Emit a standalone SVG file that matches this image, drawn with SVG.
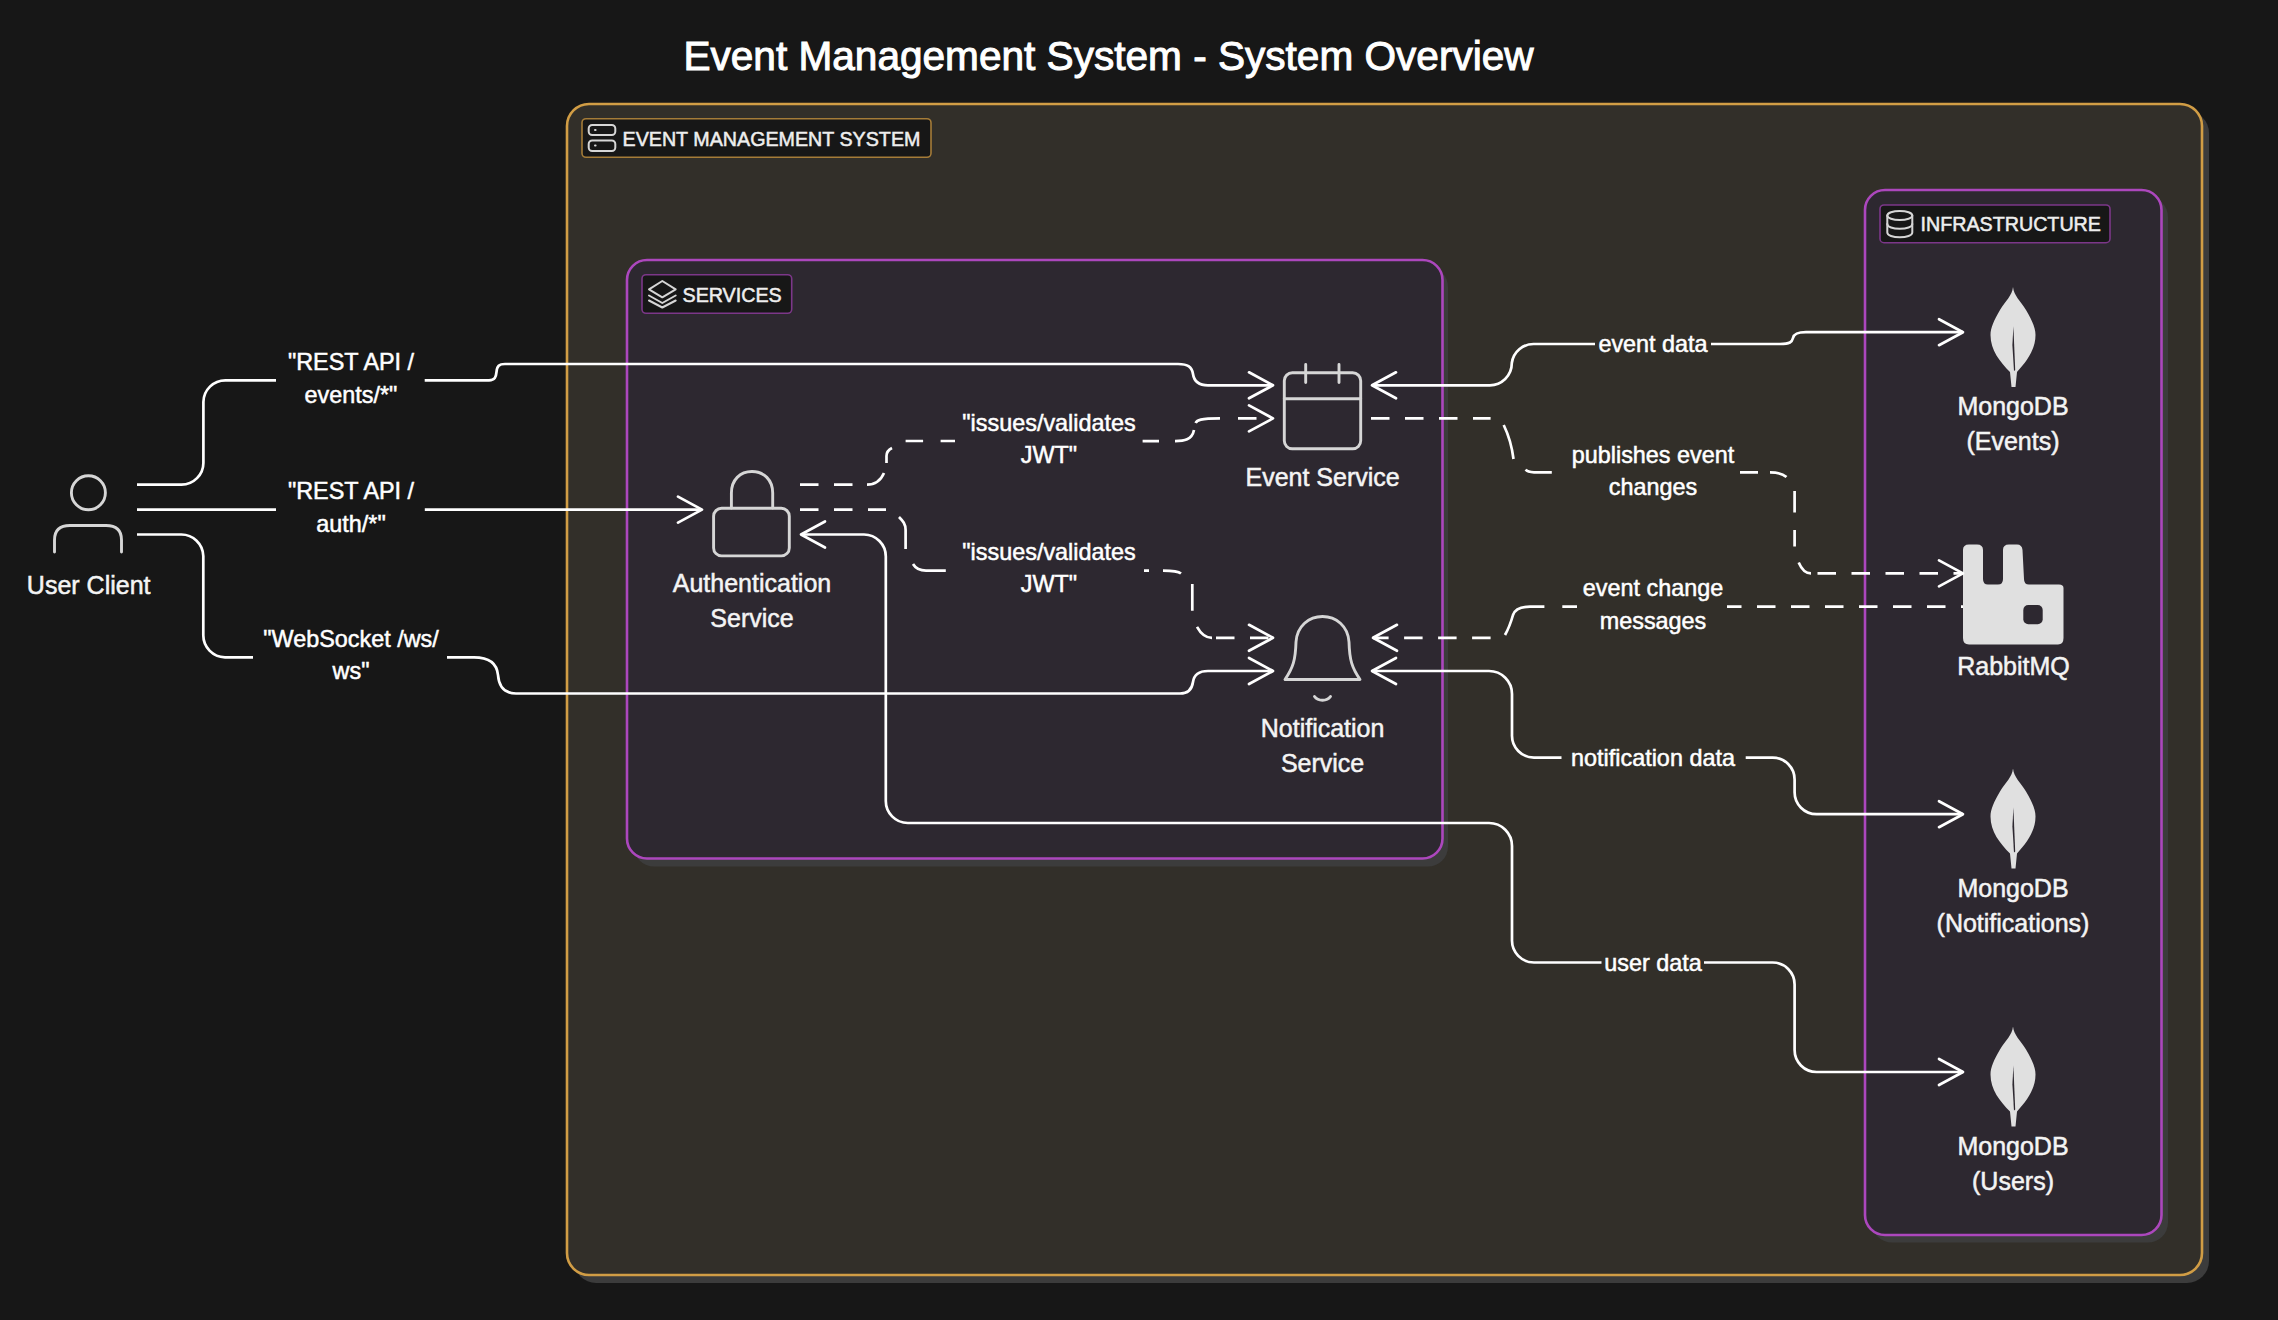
<svg xmlns="http://www.w3.org/2000/svg" width="2278" height="1320" viewBox="0 0 2278 1320">
<style>
text{font-family:"Liberation Sans",Arial,sans-serif;fill:#fff;stroke:#fff;stroke-width:.5}
.n{font-size:25px;text-anchor:middle;fill:#f4f4f4;stroke:#f4f4f4}
.e{font-size:23.4px;text-anchor:middle}
.g{font-size:19.7px;fill:#eee;stroke:#eee}
.shadow{fill:#3c3c3c}
.orange{fill:#322f29;stroke:#d19d45;stroke-width:2.6}
.purple{fill:#2d2830;stroke:#ac47bd;stroke-width:2.6}
.tagO{fill:#171717;stroke:#a57c38;stroke-width:1.6}
.tagP{fill:#171717;stroke:#7c3789;stroke-width:1.6}
.ic{fill:none;stroke:#d6d6d6;stroke-width:2.9;stroke-linecap:round;stroke-linejoin:round}
.solid{fill:#e0e0e0}
.l{fill:none;stroke:#fff;stroke-width:2.7;stroke-linecap:butt}
.d{stroke-dasharray:18.5 15.5}
.a{marker-end:url(#ar)}
.b{marker-start:url(#ar);marker-end:url(#ar)}
</style>
<defs>
<marker id="ar" markerUnits="userSpaceOnUse" markerWidth="30" markerHeight="32" refX="26" refY="15" orient="auto-start-reverse">
<path d="M2 2 L26 15 L2 28" fill="none" stroke="#fff" stroke-width="2.7" stroke-linecap="round" stroke-linejoin="round"/>
</marker>
<g id="leaf">
<path class="solid" d="M2013 287C2014 296 2020 300 2026 310C2032 320 2035.5 328 2035.5 335C2035.5 350 2026 362 2017 372L2015.5 387H2011.5L2010 372C2000 362 1990.5 350 1990.5 335C1990.5 328 1994 320 2000 310C2006 300 2012 296 2013 287Z"/>
<path fill="#2d2830" d="M2013.4 326L2015.2 370L2014 371L2012.4 345Z"/>
</g>
</defs>
<rect width="2278" height="1320" fill="#171717"/>
<g id="title"><text x="1108.5" y="69.5" font-size="40.6" text-anchor="middle" style="stroke-width:1">Event Management System - System Overview</text></g>

<g id="group-system">
<rect class="shadow" x="574" y="111" width="1635" height="1172" rx="22"/>
<rect class="orange" x="567" y="104" width="1635" height="1171" rx="22"/>
<rect class="tagO" x="582" y="118.7" width="349" height="38.6" rx="4"/>
<g class="ic" style="stroke-width:2"><rect x="588.7" y="125" width="26.6" height="10" rx="3.5"/><rect x="588.7" y="140.5" width="26.6" height="10.5" rx="3.5"/><path d="M595 130h.6M595 145.5h.6"/></g>
<text class="g" x="622.5" y="146">EVENT MANAGEMENT SYSTEM</text>
</g>
<g id="group-services">
<rect class="shadow" x="634" y="267" width="814" height="599.5" rx="20"/>
<rect class="purple" x="627" y="260" width="815.5" height="598.5" rx="20"/>
<rect class="tagP" x="642" y="274.7" width="149.7" height="38.6" rx="4"/>
<g class="ic" style="stroke-width:2"><path d="M662.3 281L675.7 289.3L662.3 297.3L649 289.3Z"/><path d="M649 295.5L662.3 303L675.7 295.5"/><path d="M649 300.5L662.3 307.5L675.7 300.5"/></g>
<text class="g" x="682.5" y="301.8">SERVICES</text>
</g>
<g id="group-infrastructure">
<rect class="shadow" x="1872" y="197" width="296" height="1045.5" rx="20"/>
<rect class="purple" x="1865" y="190" width="296.5" height="1045" rx="20"/>
<rect class="tagP" x="1880" y="205" width="230" height="37.7" rx="4"/>
<g class="ic" style="stroke-width:2"><ellipse cx="1899.8" cy="215.5" rx="12.5" ry="4.6"/><path d="M1887.3 215.5V232.5C1887.3 235.5 1893 237.3 1899.8 237.3C1906.6 237.3 1912.3 235.5 1912.3 232.5V215.5"/><path d="M1887.3 224C1887.3 227 1893 228.8 1899.8 228.8C1906.6 228.8 1912.3 227 1912.3 224"/></g>
<text class="g" x="1920.5" y="231.3">INFRASTRUCTURE</text>
</g>

<g id="node-user">
<circle class="ic" cx="88.4" cy="492.8" r="17"/>
<path class="ic" d="M54.5 552V540Q54.5 525.5 70 525.5H106Q121.5 525.5 121.5 540V552"/>
<text class="n" x="88.7" y="593.7">User Client</text>
</g>
<g id="node-auth">
<path class="ic" d="M731.4 508V493C731.4 480 740 471.5 752 471.5C764 471.5 772.7 480 772.7 493V508"/>
<rect class="ic" x="713.6" y="508.3" width="75.7" height="47.6" rx="8"/>
<text class="n" x="752" y="592.4">Authentication</text>
<text class="n" x="752" y="627.2">Service</text>
</g>
<g id="node-event">
<rect class="ic" x="1284.3" y="372.8" width="76.4" height="76" rx="8"/>
<path class="ic" d="M1284.3 398.8H1360.7M1305.7 364.5V382.5M1339 364.5V382.5"/>
<text class="n" x="1322.6" y="485.8">Event Service</text>
</g>
<g id="node-notification">
<path class="ic" d="M1285 679.5H1360C1352 668 1349.5 660 1349 642C1348 626 1336 616.5 1322.5 616.5C1309 616.5 1297 626 1296 642C1295.5 660 1293 668 1285 679.5Z"/>
<path class="ic" d="M1314.5 696.5C1318 701.5 1327 701.5 1330.5 696.5"/>
<text class="n" x="1322.6" y="737.4">Notification</text>
<text class="n" x="1322.6" y="772">Service</text>
</g>
<g id="node-mongo-events">
<use href="#leaf"/>
<text class="n" x="2013" y="415">MongoDB</text>
<text class="n" x="2013" y="449.5">(Events)</text>
</g>
<g id="node-rabbitmq">
<path class="solid" d="M1969 544.5H1977Q1983 544.5 1983 550V579Q1983 584.5 1988 584.5H1998Q2003 584.5 2003 579V550Q2003 544.5 2009 544.5H2017Q2022 544.5 2022.5 550L2024 579Q2024 584.5 2029 584.5H2059Q2063.5 584.5 2063.5 588V638Q2063.5 644.5 2058 644.5H1969Q1963 644.5 1963 638V550Q1963 544.5 1969 544.5Z"/>
<rect fill="#2d2830" x="2023.3" y="605" width="19.4" height="19.3" rx="5"/>
<text class="n" x="2013.5" y="674.5">RabbitMQ</text>
</g>
<g id="node-mongo-notifications">
<use href="#leaf" y="481.5"/>
<text class="n" x="2013" y="896.8">MongoDB</text>
<text class="n" x="2013" y="931.5">(Notifications)</text>
</g>
<g id="node-mongo-users">
<use href="#leaf" y="739.5"/>
<text class="n" x="2013" y="1154.8">MongoDB</text>
<text class="n" x="2013" y="1189.5">(Users)</text>
</g>

<g id="connectors">
<path class="l a" d="M137 484.6H181A22 22 0 0 0 203.4 462V402A22 22 0 0 1 225.4 380.3H276M424.7 380.3H489C495 380.3 496 377 496.5 372C497 366 499 364 505 364H1178C1188 364 1192 367 1193 374C1194 381 1198 385.3 1208 385.3H1273"/>
<path class="l a" d="M137 509.6H276M424.8 509.6H702"/>
<path class="l a" d="M137 534.5H181A22 22 0 0 1 203.3 556V635A22 22 0 0 0 225 657.3H253M447 657.3H474C490 657.3 497 664 498 675C499 688 506 693.5 516 693.5H1180C1188 693.5 1192 689 1193 682C1194 675 1198 671 1208 671H1273"/>
<g id="edge-auth-event">
<path class="l d" d="M800 484.6H855"/>
<path class="l" d="M867 484.6C875 484.6 881 480 884 473M886.5 463V456C886.5 452 888 450 892 448"/>
<path class="l" style="stroke-dasharray:17.5 17.5" d="M905.6 441H955"/>
<path class="l" d="M1142.6 441.2H1159M1175 441.2C1184 441.2 1192 440 1194 430M1195.6 423C1197 420 1200 418.4 1220 418.4"/>
<path class="l d a" d="M1238 418.4H1273"/>
</g>
<g id="edge-auth-notification">
<path class="l d" d="M800 509.6H886"/>
<path class="l" d="M899 517C903 521 905.6 524 905.6 530V549M913 564C916 569 920 570.6 926 570.6H945.8"/>
<path class="l" d="M1144 570.6H1149M1163 570.6C1172 570.6 1178 571 1181 573.5M1192.3 584V610.7M1197 626.8C1201 634 1206 637.8 1212 637.8"/>
<path class="l d a" d="M1216 637.8H1273"/>
</g>
<path class="l b" d="M1372 385.3H1489A22 22 0 0 0 1511.8 363A22 22 0 0 1 1534 344H1595M1711 344H1780C1790 344 1792 342 1793 338C1794 334 1797 332.2 1806 332.2H1963"/>
<g id="edge-event-rabbit">
<path class="l d" d="M1371 418.4H1490.6"/>
<path class="l" d="M1503.7 425C1509 436 1512 447 1513.5 459M1525.7 469.6C1527 471.5 1530 472.3 1534 472.3H1551.8"/>
<path class="l" d="M1740 472.3H1758M1770 472.3C1776 472.3 1782 473 1786.5 477"/>
<path class="l" d="M1794.6 491V512.5M1794.6 530V546.4M1798.7 562.5C1801 568 1805 573.4 1811 573.4"/>
<path class="l d a" d="M1817.5 573.4H1963"/>
</g>
<g id="edge-rabbit-notification">
<path class="l d" style="stroke-dashoffset:16.5" d="M1963 606.7H1727"/>
<path class="l" d="M1577 606.7H1562.3M1544.4 606.7H1530C1522 606.7 1515 609 1513 615C1511 622 1509 628 1505 635"/>
<path class="l d a" d="M1490.6 637.8H1373"/>
</g>
<path class="l b" d="M1372 671H1489A23 23 0 0 1 1512 694V735A22 22 0 0 0 1534 757.6H1561.5M1745.7 757.6H1772.6A22 22 0 0 1 1794.6 779.6V792A22 22 0 0 0 1816.6 814.2H1963"/>
<path class="l b" d="M801 534.5H864A22 22 0 0 1 885.8 556.5V800.6A22 22 0 0 0 907.8 823H1489A23 23 0 0 1 1512 846V940A22 22 0 0 0 1534 962.5H1601.5M1704 962.5H1772.6A22 22 0 0 1 1794.6 984.5V1049.7A22 22 0 0 0 1816.6 1072H1963"/>
<g id="edge-labels">
<text class="e" x="351" y="370">"REST API /</text><text class="e" x="351" y="403">events/*"</text>
<text class="e" x="351" y="499.3">"REST API /</text><text class="e" x="351" y="531.7">auth/*"</text>
<text class="e" x="351" y="646.7">"WebSocket /ws/</text><text class="e" x="351" y="679.3">ws"</text>
<text class="e" x="1049" y="430.6">"issues/validates</text><text class="e" x="1049" y="463">JWT"</text>
<text class="e" x="1049" y="560">"issues/validates</text><text class="e" x="1049" y="592.4">JWT"</text>
<text class="e" x="1653" y="351.5">event data</text>
<text class="e" x="1653" y="462.5">publishes event</text><text class="e" x="1653" y="495">changes</text>
<text class="e" x="1653" y="596">event change</text><text class="e" x="1653" y="629">messages</text>
<text class="e" x="1653" y="766">notification data</text>
<text class="e" x="1653" y="971">user data</text>
</g>
</g>
</svg>
